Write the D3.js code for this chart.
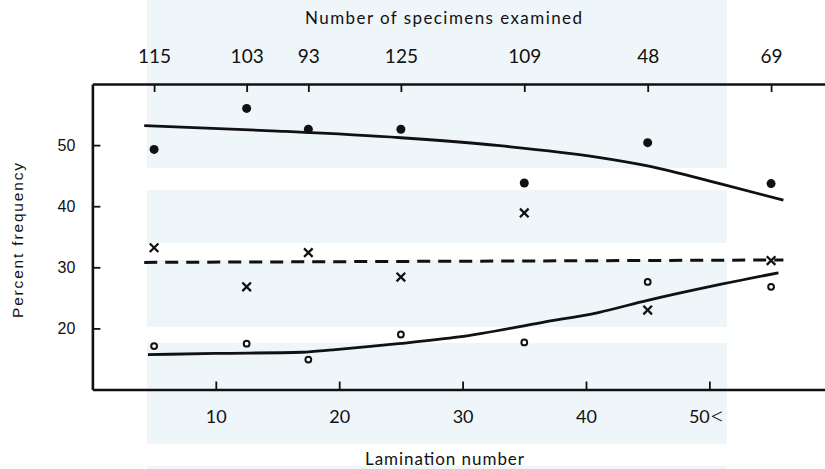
<!DOCTYPE html>
<html>
<head>
<meta charset="utf-8">
<script src="https://cdn.jsdelivr.net/npm/d3@7/dist/d3.min.js"></script>
<style>
  html, body { margin: 0; padding: 0; background: #ffffff; }
  svg { display: block; }
</style>
</head>
<body>
<svg id="chart" width="825" height="469"></svg>
<script>
// ---- data ----
const lamination = [5, 12.5, 17.5, 25, 35, 45, 55];
const specimens = ["115", "103", "93", "125", "109", "48", "69"];
const filledDots = [49.3, 56.0, 52.6, 52.6, 43.8, 50.4, 43.7];
const crossMarks = [33.2, 26.8, 32.4, 28.4, 38.9, 23.0, 31.1];
const openDots = [17.1, 17.5, 14.9, 19.0, 17.7, 27.6, 26.8];

const upperCurveX = [4.2, 15, 25, 33, 41, 45, 51, 56];
const upperCurveY = [53.2, 52.3, 51.2, 49.9, 48.0, 46.6, 43.6, 41.0];
const dashedX = [4.2, 56];
const dashedY = [30.8, 31.2];
const lowerCurveX = [4.5, 10, 17, 19.5, 24.8, 29.7, 36.5, 41, 45, 50.4, 55.6];
const lowerCurveY = [15.7, 15.9, 16.1, 16.5, 17.5, 18.6, 21.0, 22.6, 24.6, 27.0, 29.1];

const xTicks = [10, 20, 30, 40, 50];
const xTickLabels = ["10", "20", "30", "40", "50<"];
const yTicks = [20, 30, 40, 50];

const titleTop = "Number of specimens examined";
const titleBottom = "Lamination number";
const titleLeft = "Percent frequency";

// ---- drawing ----
const svg = d3.select("#chart");

const x = d3.scaleLinear().domain([0, 59.5]).range([92.4, 826.6]);
const y = d3.scaleLinear().domain([10, 60]).range([389.5, 84]);

// faint watermark of the scanned page
const wm = svg.append("g").attr("fill", "#eef6fa");
[[0, 168], [190, 243], [260, 327], [343, 444], [466, 469]].forEach(b => {
  wm.append("rect").attr("x", 147).attr("y", b[0]).attr("width", 580).attr("height", b[1] - b[0]);
});

const ink = "#111";
const geo = "Lato, 'Liberation Sans', sans-serif";

// bottom axis
const gB = svg.append("g").attr("transform", `translate(0,${y(10)})`)
  .call(d3.axisBottom(x).tickValues(xTicks).tickFormat((d, i) => xTickLabels[i])
    .tickSizeInner(-8).tickSizeOuter(0).tickPadding(21));
// top axis
const gT = svg.append("g").attr("transform", `translate(0,${y(60)})`)
  .call(d3.axisTop(x).tickValues(lamination).tickFormat((d, i) => specimens[i])
    .tickSizeInner(-8).tickSizeOuter(0).tickPadding(21));
// left axis
const gL = svg.append("g").attr("transform", `translate(${x(0)},0)`)
  .call(d3.axisLeft(y).tickValues(yTicks).tickSizeInner(-8).tickSizeOuter(0).tickPadding(17));

[gB, gT, gL].forEach(g => {
  g.select(".domain").attr("stroke", ink).attr("stroke-width", 2.6);
  g.selectAll(".tick line").attr("stroke", ink).attr("stroke-width", 1.8);
  g.selectAll("text").attr("fill", ink);
});
gB.selectAll("text").attr("font-family", geo).attr("font-size", 18);
gT.selectAll("text").attr("font-family", geo).attr("font-size", 19);
gL.selectAll("text").attr("font-family", "'Liberation Sans', Arial, sans-serif").attr("font-size", 16);

// the "50<" label: draw the "<" as a large thin glyph
gB.selectAll(".tick text").filter(function () { return this.textContent.indexOf("<") >= 0; })
  .each(function () {
    const t = d3.select(this);
    const label = t.text();
    t.text(null).attr("dx", -3);
    t.append("tspan").text(label.replace("<", ""));
    t.append("tspan").attr("font-size", 26).attr("font-weight", 300).attr("dy", "0.05em").text("<");
  });

// titles
svg.append("text").attr("x", 443.5).attr("y", 23.5).attr("text-anchor", "middle")
  .attr("font-family", geo).attr("font-size", 17).attr("fill", ink)
  .attr("textLength", 277).attr("lengthAdjust", "spacing").text(titleTop);
svg.append("text").attr("x", 444.5).attr("y", 465).attr("text-anchor", "middle")
  .attr("font-family", geo).attr("font-size", 17).attr("fill", ink)
  .attr("textLength", 159).attr("lengthAdjust", "spacing").text(titleBottom);
svg.append("text").attr("transform", "translate(23,240.5) rotate(-90)").attr("text-anchor", "middle")
  .attr("font-family", "'Liberation Sans', Arial, sans-serif").attr("font-size", 15.5).attr("fill", ink)
  .attr("textLength", 155).attr("lengthAdjust", "spacing").text(titleLeft);

// curves
const line = d3.line().x(d => x(d[0])).y(d => y(d[1])).curve(d3.curveMonotoneX);
const plot = svg.append("g");
plot.append("path").datum(upperCurveX.map((v, i) => [v, upperCurveY[i]]))
  .attr("d", line).attr("fill", "none").attr("stroke", ink).attr("stroke-width", 2.8);
plot.append("path").datum(lowerCurveX.map((v, i) => [v, lowerCurveY[i]]))
  .attr("d", line).attr("fill", "none").attr("stroke", ink).attr("stroke-width", 2.8);
plot.append("path").datum(dashedX.map((v, i) => [v, dashedY[i]]))
  .attr("d", d3.line().x(d => x(d[0])).y(d => y(d[1])))
  .attr("fill", "none").attr("stroke", ink).attr("stroke-width", 3).attr("stroke-dasharray", "13,8");

// markers
plot.selectAll("circle.filled").data(lamination).join("circle").attr("class", "filled")
  .attr("cx", d => x(d)).attr("cy", (d, i) => y(filledDots[i])).attr("r", 4.5).attr("fill", ink);
plot.selectAll("circle.open").data(lamination).join("circle").attr("class", "open")
  .attr("cx", d => x(d)).attr("cy", (d, i) => y(openDots[i])).attr("r", 2.9)
  .attr("fill", "#fff").attr("stroke", ink).attr("stroke-width", 2);
const xSym = d3.symbol(d3.symbolX, 50);
plot.selectAll("path.cross").data(lamination).join("path").attr("class", "cross")
  .attr("transform", (d, i) => `translate(${x(d)},${y(crossMarks[i])})`)
  .attr("d", xSym).attr("fill", "none").attr("stroke", ink).attr("stroke-width", 2.3);
</script>
</body>
</html>
